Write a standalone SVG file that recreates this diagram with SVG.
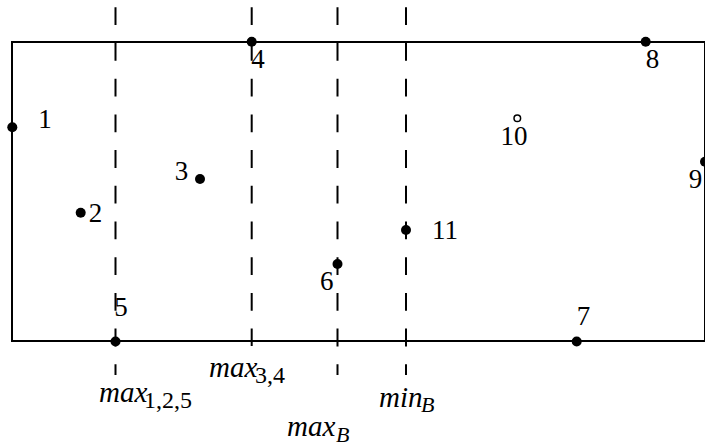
<svg xmlns="http://www.w3.org/2000/svg" width="705" height="446" viewBox="0 0 705 446">
<style>
.box{fill:none;stroke:#000;stroke-width:2}
.dash{fill:none;stroke:#000;stroke-width:2;stroke-dasharray:17.8 17.9}
.pt{fill:#000}
.hollow{fill:#fff;stroke:#000;stroke-width:1.5}
.num{font-family:"Liberation Serif","Times New Roman",serif;font-size:27px;fill:#000;text-anchor:middle}
.lab{font-family:"Liberation Serif","Times New Roman",serif;font-size:29px;font-style:italic;fill:#000}
.sub{font-size:24px;font-style:normal}
.subi{font-size:22px;font-style:italic}
</style>
<rect width="705" height="446" fill="#fff"/>
<g id="boundary">
<rect class="box" x="12" y="42" width="693" height="299"/>
</g>
<g id="connectors">
<line class="dash" x1="115.5" y1="7.3" x2="115.5" y2="375"/>
<line class="dash" x1="251.7" y1="7.3" x2="251.7" y2="346"/>
<line class="dash" x1="337.5" y1="7.3" x2="337.5" y2="375"/>
<line class="dash" x1="406" y1="7.3" x2="406" y2="375"/>
</g>
<g id="p1"><circle class="pt" cx="12.3" cy="127.3" r="5"/><text class="num" x="45" y="128.3">1</text></g>
<g id="p2"><circle class="pt" cx="80.7" cy="212.7" r="5"/><text class="num" x="95.5" y="221.7">2</text></g>
<g id="p3"><circle class="pt" cx="200" cy="179" r="5"/><text class="num" x="181.5" y="180">3</text></g>
<g id="p4"><circle class="pt" cx="251.7" cy="41.7" r="5"/><text class="num" x="258" y="68.3">4</text></g>
<g id="p5"><circle class="pt" cx="115.5" cy="341.5" r="5"/><text class="num" x="121" y="315.7">5</text></g>
<g id="p6"><circle class="pt" cx="337.5" cy="264" r="5"/><text class="num" x="326.7" y="290">6</text></g>
<g id="p7"><circle class="pt" cx="576.7" cy="341.5" r="5"/><text class="num" x="583.5" y="325">7</text></g>
<g id="p8"><circle class="pt" cx="645.7" cy="41.7" r="5"/><text class="num" x="652.5" y="68.3">8</text></g>
<g id="p9"><circle class="pt" cx="705" cy="161.7" r="5"/><text class="num" x="695.5" y="188.3">9</text></g>
<g id="p10"><circle class="hollow" cx="517.3" cy="118.3" r="3.3"/><text class="num" x="514" y="145">10</text></g>
<g id="p11"><circle class="pt" cx="406" cy="230" r="5"/><text class="num" x="445" y="239.3">11</text></g>
<g id="label-max125"><text class="lab" x="99" y="401.7">max<tspan class="sub" x="144" y="408.3">1,2,5</tspan></text></g>
<g id="label-max34"><text class="lab" x="209" y="376.7">max<tspan class="sub" x="255" y="382.5">3,4</tspan></text></g>
<g id="label-maxB"><text class="lab" x="287" y="435.5">max<tspan class="subi" x="336" y="441.5">B</tspan></text></g>
<g id="label-minB"><text class="lab" x="379" y="406.7">min<tspan class="subi" x="421" y="412">B</tspan></text></g>
</svg>
